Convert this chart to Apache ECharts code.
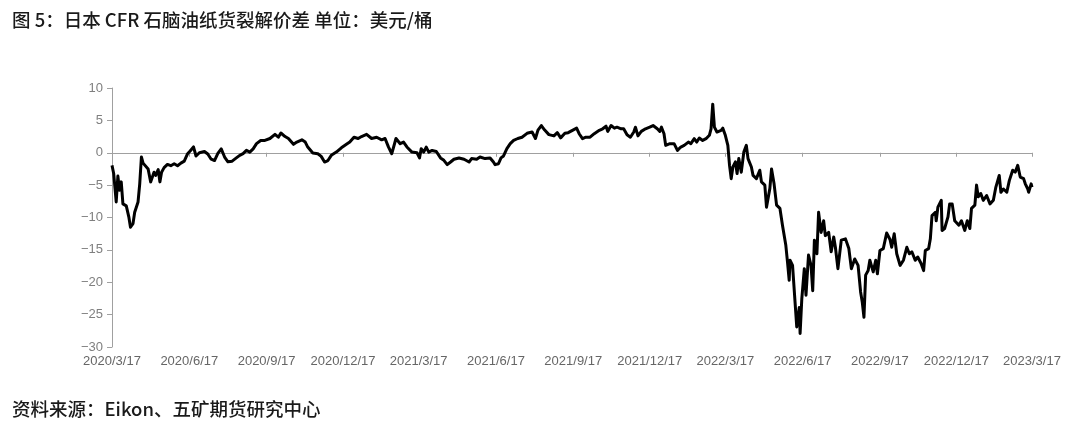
<!DOCTYPE html>
<html>
<head>
<meta charset="utf-8">
<script src="https://cdn.jsdelivr.net/npm/echarts@6/dist/echarts.min.js"></script>
<style>
html,body{margin:0;padding:0;background:#fff;}
#chart{width:1080px;height:434px;}
</style>
</head>
<body>
<div id="chart"></div>
<script>
// Quarterly tick labels and their day offsets from 2020/3/17
const tickLabels = ['2020/3/17','2020/6/17','2020/9/17','2020/12/17','2021/3/17','2021/6/17','2021/9/17','2021/12/17','2022/3/17','2022/6/17','2022/9/17','2022/12/17','2023/3/17'];
const tickDays = [0,92,184,275,365,457,549,640,730,822,914,1005,1095];

// Observation day (days since 2020/3/17)
const obsDay = [0,2,5,7,9,11,13,17,20,22,25,27,31,33,35,37,39,43,46,50,52,55,57,59,62,66,70,74,78,82,86,90,93,97,100,104,110,114,118,122,126,130,134,138,143,148,152,156,160,164,168,172,177,
182,188,194,198,201,206,210,216,220,226,230,233,239,245,249,253,257,261,267,273,279,283,288,293,297,303,309,315,321,325,329,333,335,338,343,347,351,357,
363,366,368,371,374,377,381,386,391,395,399,403,407,413,419,425,428,434,438,444,450,454,456,460,463,466,470,474,478,483,488,494,500,504,507,511,515,520,526,530,534,539,
543,548,553,556,560,564,569,574,580,584,588,590,594,598,601,606,609,613,617,621,623,626,630,635,640,644,649,652,654,657,659,664,669,673,677,681,686,689,693,696,699,703,707,711,713,715,717,720,
725,727,730,733,735,737,739,742,744,746,749,752,755,757,761,763,767,771,773,777,779,783,785,788,791,795,798,802,804,806,807,810,813,815,818,819,821,824,826,829,832,834,836,839,841,844,847,849,853,856,859,861,864,868,873,877,880,884,888,891,893,895,897,900,902,
906,909,911,914,918,922,926,928,931,934,938,942,946,949,952,956,959,963,966,968,972,974,976,980,981,983,987,988,991,995,997,1000,1003,1005,1008,1011,1015,1018,1021,1023,1027,1029,1031,1034,1037,1041,1045,1049,1052,1056,1058,1061,1065,1068,1072,1075,1078,1081,1085,1087,1090,1091,1094,1095];

// Japan CFR naphtha paper crack spread (USD/bbl)
const spread = [-1.95,-3.2,-7.6,-3.6,-5.8,-4.5,-7.9,-8.2,-9.9,-11.5,-10.95,-9.2,-7.6,-4.8,-0.66,-1.6,-1.5,-2.5,-4.5,-3.0,-3.5,-2.6,-4.5,-3.0,-2.3,-1.8,-2.0,-1.7,-2.0,-1.6,-1.3,-0.14,0.28,0.9,-0.5,0,0.2,-0.2,-1.0,-1.2,-0.1,0.6,-0.66,-1.4,-1.3,-0.8,-0.4,-0.14,0.37,0.1,0.6,1.4,1.9,
1.9,2.2,2.84,2.4,3.05,2.5,2.2,1.3,1.65,2.0,1.65,0.88,-0.05,-0.15,-0.56,-1.43,-1.2,-0.4,0.1,0.77,1.3,1.65,2.4,2.2,2.5,2.84,2.2,2.4,2.0,2.2,0.9,-0.15,-0.4,2.2,1.4,1.65,0.9,0.1,
0,-0.8,0.63,0.1,0.88,0.1,0.36,0.2,-0.8,-1.17,-1.84,-1.43,-1.0,-0.8,-1.0,-1.43,-0.9,-1.0,-0.65,-0.9,-0.8,-1.43,-1.84,-1.7,-0.8,-0.5,0.63,1.4,1.9,2.2,2.4,3.0,3.2,2.2,3.5,4.2,3.5,2.8,2.6,3.1,2.3,3.0,
3.1,3.46,3.8,2.94,2.17,2.4,2.4,2.94,3.46,3.7,4.1,3.3,4.2,3.8,3.95,3.7,3.7,2.78,2.4,3.2,3.95,2.6,3.3,3.7,3.95,4.2,3.7,3.3,3.95,2.94,1.14,1.4,1.4,0.37,0.88,1.14,1.65,1.4,2.17,1.65,2.27,1.9,2.17,2.7,3.7,7.5,3.95,3.2,
3.46,3.8,2.7,1.14,-1.95,-4.0,-2.2,-1.4,-3.2,-0.9,-3.0,0.1,1.14,-0.9,-2.2,-3.5,-4.0,-2.7,-4.5,-5.0,-8.4,-5.5,-2.5,-4.8,-8.1,-8.6,-11.2,-14.3,-16.9,-19.7,-16.6,-17.4,-23.1,-26.9,-23.9,-27.9,-22.6,-17.9,-22.0,-15.8,-17.4,-21.3,-13.5,-15.6,-9.2,-12.3,-10.5,-12.8,-12.3,-15.3,-13.0,-14.6,-17.9,-13.5,-13.3,-14.8,-17.9,-16.4,-17.4,-21.5,-23.1,-25.4,-18.9,-18.2,-16.6,
-18.4,-16.6,-18.7,-15.1,-14.8,-12.4,-13.4,-14.6,-12.5,-15.6,-17.4,-16.6,-14.6,-15.6,-15.3,-16.6,-16.1,-17.1,-18.2,-15.1,-14.8,-13.3,-9.7,-9.2,-10.5,-8.4,-7.35,-12.0,-11.7,-9.9,-7.9,-7.9,-10.5,-10.2,-11.2,-10.5,-12.0,-10.5,-11.7,-8.6,-8.1,-5.0,-6.8,-6.3,-7.35,-6.6,-7.9,-7.35,-5.3,-3.5,-6.1,-5.6,-6.1,-4.3,-2.7,-3.0,-1.95,-3.75,-4.0,-4.8,-5.6,-6.1,-4.8,-5.3];

const yTicks = {min: -30, max: 10, step: 5};
const titleText = '图 5：日本 CFR 石脑油纸货裂解价差 单位：美元/桶';
const sourceText = '资料来源：Eikon、五矿期货研究中心';

const seriesData = obsDay.map((d, i) => [d, spread[i]]);
const dayToLabel = v => { const i = tickDays.indexOf(Math.round(v)); return i >= 0 ? tickLabels[i] : ''; };
const cjk = '"Noto Sans CJK SC", "Noto Sans", sans-serif';
const latin = '"Liberation Sans", Arial, sans-serif';

const chart = echarts.init(document.getElementById('chart'), null, {renderer: 'canvas'});
chart.setOption({
  animation: false,
  backgroundColor: '#ffffff',
  graphic: [
    {type: 'text', left: 12, top: 11, style: {text: titleText, font: '500 18.5px ' + cjk, fill: '#1a1a1a'}},
    {type: 'text', left: 12, top: 400, style: {text: sourceText, font: '500 18.5px ' + cjk, fill: '#1a1a1a'}}
  ],
  grid: {left: 112, right: 48, top: 88, bottom: 87, containLabel: false},
  xAxis: [
    {
      type: 'value', min: 0, max: 1095, position: 'bottom',
      axisLine: {show: true, onZero: true, lineStyle: {color: '#a0a0a0', width: 1}},
      axisTick: {show: true, length: 4, customValues: tickDays, lineStyle: {color: '#a0a0a0'}},
      axisLabel: {show: false},
      splitLine: {show: false}
    },
    {
      type: 'value', min: 0, max: 1095, position: 'bottom',
      axisLine: {show: false, onZero: false},
      axisTick: {show: false},
      axisLabel: {show: true, customValues: tickDays, formatter: dayToLabel, margin: 8,
        color: '#666666', fontSize: 13, fontFamily: latin, showMinLabel: true, showMaxLabel: true, hideOverlap: false},
      splitLine: {show: false}
    }
  ],
  yAxis: {
    type: 'value', min: yTicks.min, max: yTicks.max, interval: yTicks.step,
    axisLine: {show: true, onZero: false, lineStyle: {color: '#a0a0a0', width: 1}},
    axisTick: {show: true, length: 5, lineStyle: {color: '#a0a0a0'}},
    axisLabel: {color: '#7f7f7f', fontSize: 13, fontFamily: latin, margin: 9,
      formatter: v => String(v).replace('-', '\u2212')},
    splitLine: {show: false}
  },
  series: [{
    type: 'line', xAxisIndex: 0, data: seriesData, showSymbol: false, symbol: 'none',
    lineStyle: {color: '#000000', width: 3, join: 'round'}, z: 3
  }]
});
</script>
</body>
</html>
